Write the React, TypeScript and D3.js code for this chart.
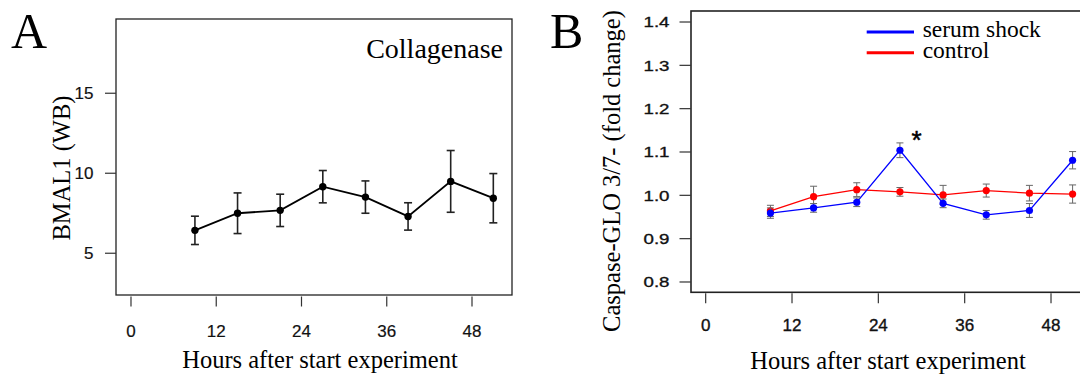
import React from "react";
import * as d3 from "d3";

// ---------- data ----------
const hours = [9, 15, 21, 27, 33, 39, 45, 51];
const xTicks = [0, 12, 24, 36, 48];

// Panel A: BMAL1 (WB), Collagenase
const bmal1Mean = [6.43, 7.5, 7.68, 9.16, 8.51, 7.3, 9.49, 8.44];
const bmal1Err = [0.885, 1.27, 1.01, 1.01, 1.01, 0.855, 1.93, 1.54];
const yTicksA = [5, 10, 15];

// Panel B: Caspase-GLO 3/7
const serumShock = [0.959, 0.971, 0.984, 1.104, 0.9815, 0.955, 0.965, 1.081];
const serumShockErr = [0.012, 0.01, 0.01, 0.017, 0.01, 0.01, 0.016, 0.02];
const control = [0.964, 0.997, 1.013, 1.008, 1.001, 1.011, 1.005, 1.003];
const controlErr = [0.013, 0.024, 0.016, 0.01, 0.022, 0.015, 0.018, 0.021];
const yTicksB = [0.8, 0.9, 1.0, 1.1, 1.2, 1.3, 1.4];
const legendLabels = ["serum shock", "control"];
const seriesColors = ["#0000ff", "#ff0000"];
const starHour = 29.3;
const starValue = 1.138;

const SERIF = "'Liberation Serif', 'Times New Roman', serif";
const SANS = "'Liberation Sans', Arial, sans-serif";

// ---------- scales ----------
const boxA = { l: 116, r: 512, t: 19, b: 295 };
const boxB = { l: 691, r: 1091.3, t: 11, b: 292.3 };

const xA = d3.scaleLinear().domain([-2.11, 53.63]).range([boxA.l, boxA.r]);
const yA = d3.scaleLinear().domain([2.39, 19.64]).range([boxA.b, boxA.t]);
const xB = d3.scaleLinear().domain([-2.04, 53.6]).range([boxB.l, boxB.r]);
const yB = d3.scaleLinear().domain([0.7762, 1.4254]).range([boxB.b, boxB.t]);

function ErrorSeries({ xs, ys, errs, x, y, color, barColor, lineW, barW, cap, r }) {
  const pts = xs.map((h, i) => [x(h), y(ys[i])] as [number, number]);
  const line = d3.line()(pts) || "";
  return (
    <g>
      <path d={line} fill="none" stroke={color} strokeWidth={lineW} />
      {xs.map((h, i) => {
        const cx = x(h);
        const y1 = y(ys[i] + errs[i]);
        const y2 = y(ys[i] - errs[i]);
        return (
          <g key={"e" + i} stroke={barColor} strokeWidth={barW}>
            <line x1={cx} x2={cx} y1={y1} y2={y2} />
            <line x1={cx - cap} x2={cx + cap} y1={y1} y2={y1} />
            <line x1={cx - cap} x2={cx + cap} y1={y2} y2={y2} />
          </g>
        );
      })}
      {pts.map((p, i) => (
        <circle key={"p" + i} cx={p[0]} cy={p[1]} r={r} fill={color} />
      ))}
    </g>
  );
}

export default function App() {
  return (
    <svg
      width={1080}
      height={378}
      style={{ position: "absolute", left: 0, top: 0, background: "#fff" }}
    >
      <rect x={0} y={0} width={1080} height={378} fill="#fff" />

      {/* ================= Panel A ================= */}
      <text x={11} y={48} fontFamily={SERIF} fontSize={50}>A</text>
      <rect
        x={boxA.l}
        y={boxA.t}
        width={boxA.r - boxA.l}
        height={boxA.b - boxA.t}
        fill="none"
        stroke="#222"
        strokeWidth={1.3}
      />
      {yTicksA.map((t) => (
        <g key={"ya" + t}>
          <line x1={boxA.l - 11} x2={boxA.l} y1={yA(t)} y2={yA(t)} stroke="#333" strokeWidth={1.2} />
          <text
            x={93.5}
            y={yA(t)}
            dy="0.36em"
            textAnchor="end"
            fontFamily={SANS}
            fontSize={17}
            fill="#111"
            stroke="#111"
            strokeWidth={0.2}
          >
            {t}
          </text>
        </g>
      ))}
      {xTicks.map((t) => (
        <g key={"xa" + t}>
          <line x1={xA(t)} x2={xA(t)} y1={boxA.b + 1.5} y2={boxA.b + 11.5} stroke="#333" strokeWidth={1.2} />
          <text
            x={xA(t)}
            y={336.5}
            textAnchor="middle"
            fontFamily={SANS}
            fontSize={17}
            fill="#111"
            stroke="#111"
            strokeWidth={0.2}
          >
            {t}
          </text>
        </g>
      ))}
      <text x={503} y={58} textAnchor="end" fontFamily={SERIF} fontSize={28}>Collagenase</text>
      <text
        transform={`translate(70,168) rotate(-90)`}
        textAnchor="middle"
        fontFamily={SERIF}
        fontSize={24.5}
      >
        BMAL1 (WB)
      </text>
      <text x={320} y={368} textAnchor="middle" fontFamily={SERIF} fontSize={24.5}>
        Hours after start experiment
      </text>
      <ErrorSeries
        xs={hours}
        ys={bmal1Mean}
        errs={bmal1Err}
        x={xA}
        y={yA}
        color="#000"
        barColor="#222"
        lineW={1.8}
        barW={1.6}
        cap={4}
        r={3.7}
      />

      {/* ================= Panel B ================= */}
      <text x={550} y={48} fontFamily={SERIF} fontSize={50}>B</text>
      <rect
        x={boxB.l}
        y={boxB.t}
        width={boxB.r - boxB.l}
        height={boxB.b - boxB.t}
        fill="none"
        stroke="#222"
        strokeWidth={1.6}
      />
      {yTicksB.map((t) => (
        <g key={"yb" + t}>
          <line x1={boxB.l - 11.5} x2={boxB.l} y1={yB(t)} y2={yB(t)} stroke="#333" strokeWidth={1.2} />
          <text
            x={669.5}
            y={yB(t)}
            dy="0.36em"
            textAnchor="end"
            fontFamily={SANS}
            fontSize={15}
            textLength={26}
            lengthAdjust="spacingAndGlyphs"
            fill="#111"
            stroke="#111"
            strokeWidth={0.35}
          >
            {t.toFixed(1)}
          </text>
        </g>
      ))}
      {xTicks.map((t) => (
        <g key={"xb" + t}>
          <line x1={xB(t)} x2={xB(t)} y1={boxB.b + 1} y2={boxB.b + 11} stroke="#333" strokeWidth={1.2} />
          <text
            x={xB(t)}
            y={330.5}
            textAnchor="middle"
            fontFamily={SANS}
            fontSize={17}
            fill="#111"
            stroke="#111"
            strokeWidth={0.35}
          >
            {t}
          </text>
        </g>
      ))}
      <text
        transform={`translate(620,171) rotate(-90)`}
        textAnchor="middle"
        fontFamily={SERIF}
        fontSize={24.5}
      >
        Caspase-GLO 3/7- (fold change)
      </text>
      <text x={888} y={369} textAnchor="middle" fontFamily={SERIF} fontSize={24.5}>
        Hours after start experiment
      </text>

      {/* legend */}
      {legendLabels.map((lab, i) => (
        <g key={"lg" + i}>
          <line
            x1={866.7}
            x2={914}
            y1={32 + i * 20.7}
            y2={32 + i * 20.7}
            stroke={seriesColors[i]}
            strokeWidth={3}
          />
          <text x={922.7} y={36.7 + i * 21.6} fontFamily={SERIF} fontSize={23.5}>
            {lab}
          </text>
        </g>
      ))}

      <ErrorSeries
        xs={hours}
        ys={control}
        errs={controlErr}
        x={xB}
        y={yB}
        color={seriesColors[1]}
        barColor="#666"
        lineW={1.3}
        barW={1}
        cap={3.5}
        r={3.6}
      />
      <ErrorSeries
        xs={hours}
        ys={serumShock}
        errs={serumShockErr}
        x={xB}
        y={yB}
        color={seriesColors[0]}
        barColor="#666"
        lineW={1.3}
        barW={1}
        cap={3.5}
        r={3.6}
      />
      <text
        x={xB(starHour)}
        y={yB(starValue) + 13}
        textAnchor="middle"
        fontFamily={SANS}
        fontSize={26}
        stroke="#000"
        strokeWidth={0.5}
      >
        *
      </text>
    </svg>
  );
}
